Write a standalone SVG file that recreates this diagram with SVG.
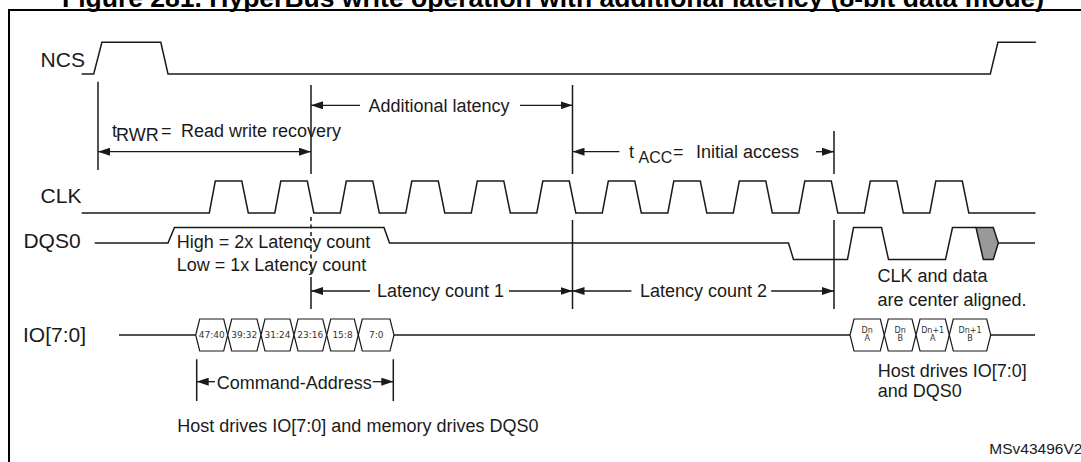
<svg xmlns="http://www.w3.org/2000/svg" width="1081" height="462" viewBox="0 0 1081 462">
<style>
  .t{font-family:"Liberation Sans",Arial,sans-serif;font-size:18px;fill:#1a1a1a}
  .lbl{font-family:"Liberation Sans",Arial,sans-serif;font-size:21px;fill:#1a1a1a}
  .ttl{font-family:"Liberation Sans",Arial,sans-serif;font-size:26.5px;font-weight:bold;fill:#000}
  .s{font-family:"DejaVu Sans",sans-serif;font-size:9px;fill:#333;text-anchor:middle}
  .sd{font-family:"DejaVu Sans",sans-serif;font-size:8px;fill:#333;text-anchor:middle}
  .w{fill:none;stroke:#1a1a1a;stroke-width:1.5;stroke-linejoin:miter}
  .v{fill:none;stroke:#1a1a1a;stroke-width:1.5}
  .a{fill:none;stroke:#1a1a1a;stroke-width:1.3}
  .hex{fill:#fff;stroke:#1a1a1a;stroke-width:1.2}
</style>
<defs>
  <marker id="ah" viewBox="0 0 12 8" refX="12" refY="4" markerWidth="12" markerHeight="8" markerUnits="userSpaceOnUse" orient="auto-start-reverse">
    <path d="M0,0 L12,4 L0,8 z" fill="#1a1a1a"/>
  </marker>
</defs>
<rect width="1081" height="462" fill="#fff"/>
<text class="ttl" x="62" y="7">Figure 281. HyperBus write operation with additional latency (8-bit data mode)</text>
<path d="M9 462 V10 H1081" fill="none" stroke="#000" stroke-width="2"/>

<g id="labels">
  <text class="lbl" x="40.6" y="66.7">NCS</text>
  <text class="lbl" x="40.6" y="203.3">CLK</text>
  <text class="lbl" x="23.4" y="248.3">DQS0</text>
  <text class="lbl" x="23" y="341.5">IO[7:0]</text>
</g>

<g id="ncs">
  <path class="w" d="M81.6 74 H93.7 L101.9 42.3 H160.8 L168 74 H990.3 L997.9 42.3 H1035.9"/>
</g>

<g id="clk">
  <path class="w" d="M81.6 213 H209.3 L215.3 181 H241.8 L248.3 213 H274.8 L280.8 181 H307.3 L313.8 213 H340.3 L346.3 181 H372.8 L379.3 213 H405.8 L411.8 181 H438.3 L444.8 213 H471.3 L477.3 181 H503.8 L510.3 213 H536.8 L542.8 181 H569.3 L575.8 213 H602.3 L608.3 181 H634.8 L641.3 213 H667.8 L673.8 181 H700.3 L706.8 213 H733.3 L739.3 181 H765.8 L772.3 213 H798.8 L804.8 181 H831.3 L837.8 213 H864.3 L870.3 181 H896.8 L903.3 213 H929.8 L935.8 181 H962.3 L968.8 213 H1035.5"/>
</g>

<g id="dqs0">
  <path class="w" d="M94.7 243 H168 L174.5 227.5 H384 L389.5 243 H788.5 L793.5 259.5 H847.5 L853.5 227.5 H881.5 L888.5 259.5 H945.5 L952.5 227.5 H976"/>
  <polygon points="976,227.5 993.3,227.5 998.3,243 993.3,259.5 983.3,259.5" fill="#999" stroke="#1a1a1a" stroke-width="1.5"/>
  <path class="w" d="M998.3 243 H1035"/>
</g>

<g id="io">
  <path class="w" d="M119 335 H195.7 M394 335 H850 M990.7 335 H1035"/>
  <g id="cmd-addr">
    <polygon class="hex" points="195.7,335 199.7,319 223.7,319 227.7,335 223.7,351 199.7,351"/>
    <polygon class="hex" points="227.7,335 231.7,319 257,319 261,335 257,351 231.7,351"/>
    <polygon class="hex" points="261,335 265,319 290,319 294,335 290,351 265,351"/>
    <polygon class="hex" points="294,335 298,319 322.7,319 326.7,335 322.7,351 298,351"/>
    <polygon class="hex" points="326.7,335 330.7,319 354.3,319 358.3,335 354.3,351 330.7,351"/>
    <polygon class="hex" points="358.3,335 362.3,319 390,319 394,335 390,351 362.3,351"/>
    <text class="s" x="211.7" y="338.4">47:40</text>
    <text class="s" x="244.3" y="338.4">39:32</text>
    <text class="s" x="277.5" y="338.4">31:24</text>
    <text class="s" x="310.3" y="338.4">23:16</text>
    <text class="s" x="342.5" y="338.4">15:8</text>
    <text class="s" x="376.2" y="338.4">7:0</text>
  </g>
  <g id="data">
    <polygon class="hex" points="850,335 854,319 880.3,319 884.3,335 880.3,351 854,351"/>
    <polygon class="hex" points="884.3,335 888.3,319 912,319 916,335 912,351 888.3,351"/>
    <polygon class="hex" points="916,335 920,319 945.3,319 949.3,335 945.3,351 920,351"/>
    <polygon class="hex" points="949.3,335 953.3,319 986.7,319 990.7,335 986.7,351 953.3,351"/>
    <text class="sd" x="867.2" y="332.6">Dn</text><text class="sd" x="867.2" y="341.2">A</text>
    <text class="sd" x="900.2" y="332.6">Dn</text><text class="sd" x="900.2" y="341.2">B</text>
    <text class="sd" x="932.7" y="332.6">Dn+1</text><text class="sd" x="932.7" y="341.2">A</text>
    <text class="sd" x="970" y="332.6">Dn+1</text><text class="sd" x="970" y="341.2">B</text>
  </g>
</g>

<g id="timing-lines">
  <path class="v" d="M98 81.7 V170"/>
  <path class="v" d="M311 85 V174 M311 279 V309"/>
  <path class="v" d="M311 217 V279" stroke-dasharray="4 3.5"/>
  <path class="v" d="M572.5 85 V174 M572.5 220 V309"/>
  <path class="v" d="M834 131 V174 M834 220 V309"/>
  <path class="v" d="M196.7 359.3 V401 M393.3 359.3 V401"/>
</g>

<g id="connectors">
  <path class="a" d="M360 105.3 H311" marker-end="url(#ah)"/>
  <path class="a" d="M520 105.3 H572.5" marker-end="url(#ah)"/>
  <path class="a" d="M98 151.7 H311" marker-start="url(#ah)" marker-end="url(#ah)"/>
  <path class="a" d="M619.4 151.7 H572.5" marker-end="url(#ah)"/>
  <path class="a" d="M816 151.7 H834" marker-end="url(#ah)"/>
  <path class="a" d="M370 291 H311" marker-end="url(#ah)"/>
  <path class="a" d="M509 291 H572.5" marker-end="url(#ah)"/>
  <path class="a" d="M631.4 291 H572.5" marker-end="url(#ah)"/>
  <path class="a" d="M771.2 291 H834" marker-end="url(#ah)"/>
  <path class="a" d="M215 381.7 H196.7" marker-end="url(#ah)"/>
  <path class="a" d="M372.7 381.7 H393.3" marker-end="url(#ah)"/>
</g>

<g id="annotations">
  <text class="t" x="368.5" y="111.7">Additional latency</text>
  <text class="t" y="137"><tspan x="112">t</tspan><tspan x="116" dy="4">RWR</tspan><tspan x="161" dy="-4">=</tspan><tspan x="181">Read write recovery</tspan></text>
  <text class="t" y="157.5"><tspan x="629">t</tspan><tspan x="638.5" dy="5.5" style="font-size:16px">ACC</tspan><tspan x="673" dy="-5.5">=</tspan><tspan x="696">Initial access</tspan></text>
  <text class="t" x="176.7" y="248.3">High = 2x Latency count</text>
  <text class="t" x="176.7" y="271">Low = 1x Latency count</text>
  <text class="t" x="377" y="296.7">Latency count 1</text>
  <text class="t" x="640" y="296.7">Latency count 2</text>
  <text class="t" x="877.5" y="281.7">CLK and data</text>
  <text class="t" x="877.5" y="305.7">are center aligned.</text>
  <text class="t" x="216.7" y="389.3">Command-Address</text>
  <text class="t" x="877.7" y="377">Host drives IO[7:0]</text>
  <text class="t" x="877.7" y="397">and DQS0</text>
  <text class="t" x="177.3" y="431.7">Host drives IO[7:0] and memory drives DQS0</text>
  <text class="t" x="989.3" y="454.3" style="font-size:15.5px">MSv43496V2</text>
</g>
</svg>
